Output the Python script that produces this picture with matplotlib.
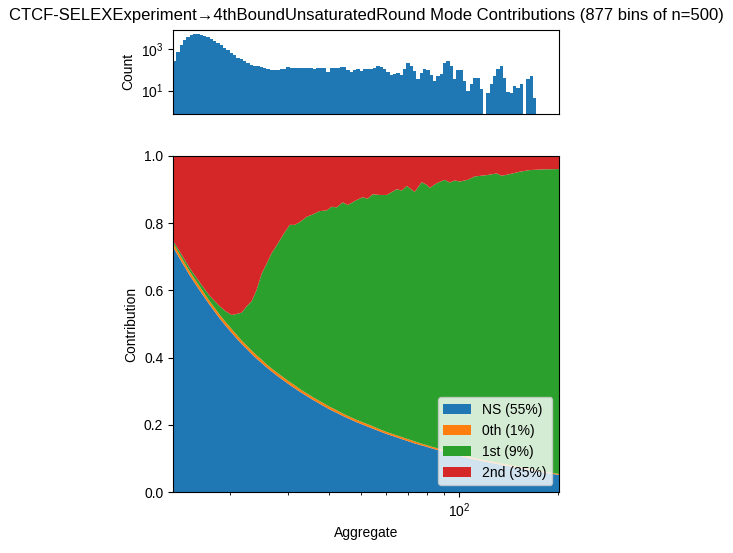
import numpy as np
import matplotlib
matplotlib.use('Agg')
from matplotlib import pyplot as plt

plt.rcParams['font.family'] = ['Liberation Sans', 'DejaVu Sans']
plt.rcParams['mathtext.fontset'] = 'custom'
plt.rcParams['mathtext.rm'] = 'Liberation Sans'
plt.rcParams['mathtext.it'] = 'Liberation Sans:italic'

# histogram of aggregate values (log-spaced bins between these limits)
hist_lo, hist_hi = 13.35, 172.4
hist_counts = [
    260, 730, 1600, 2800, 3850, 4700, 5300, 5200, 4900, 4300,
    3700, 3100, 2550, 2050, 1550, 1180, 880, 660, 500, 390,
    320, 270, 220, 180, 160, 150, 140, 128, 110, 100,
    98, 102, 110, 113, 135, 128, 128, 125, 122, 120,
    118, 125, 115, 122, 128, 118, 83, 118, 125, 118,
    145, 140, 100, 80, 95, 110, 88, 110, 112, 115,
    130, 150, 145, 115, 75, 57, 62, 72, 57, 110,
    215, 160, 85, 38, 70, 105, 95, 55, 30, 50,
    65, 210, 255, 150, 36, 100, 95, 30, 10, 20,
    41, 40, 12, 0, 8, 20, 50, 110, 150, 40,
    9, 8, 16, 14, 20, 0, 38, 50, 4.5,
]

# mode contributions per aggregate value
aggregate = [
    13.35, 13.99, 15.01, 16.11, 17.28, 18.54, 19.34, 20.18, 20.90, 21.65,
    22.43, 23.23, 24.06, 24.93, 25.82, 26.74, 27.90, 29.10, 30.36, 31.45,
    32.57, 34.22, 35.69, 37.50, 39.39, 40.80, 42.27, 44.09, 45.67, 48.66,
    50.75, 52.57, 54.46, 57.21, 60.10, 64.49, 66.80, 69.20, 73.20, 76.90,
    79.66, 81.37, 85.48, 90.43, 93.67, 97.03, 100.5, 106.3, 111.7, 121.5,
    130.4, 135.1, 142.9, 153.3, 164.5, 180.3, 202.5,
]
ns = [
    0.730, 0.695, 0.645, 0.600, 0.557, 0.517, 0.495, 0.474, 0.457, 0.441,
    0.426, 0.411, 0.397, 0.384, 0.371, 0.359, 0.345, 0.332, 0.319, 0.309,
    0.299, 0.286, 0.275, 0.263, 0.251, 0.243, 0.236, 0.227, 0.220, 0.208,
    0.201, 0.195, 0.189, 0.181, 0.173, 0.163, 0.158, 0.153, 0.145, 0.139,
    0.135, 0.132, 0.126, 0.120, 0.116, 0.112, 0.108, 0.102, 0.097, 0.090,
    0.084, 0.081, 0.077, 0.071, 0.066, 0.059, 0.051,
]
zeroth = [
    0.012, 0.012, 0.012, 0.012, 0.011, 0.011, 0.011, 0.011, 0.011, 0.010,
    0.010, 0.010, 0.010, 0.010, 0.009, 0.009, 0.009, 0.009, 0.009, 0.009,
    0.008, 0.008, 0.008, 0.008, 0.008, 0.008, 0.008, 0.007, 0.007, 0.007,
    0.007, 0.007, 0.007, 0.006, 0.006, 0.006, 0.006, 0.006, 0.006, 0.005,
    0.005, 0.005, 0.005, 0.005, 0.005, 0.005, 0.005, 0.005, 0.004, 0.004,
    0.004, 0.004, 0.004, 0.004, 0.003, 0.003, 0.003,
]
first = [
    0.006, 0.009, 0.010, 0.012, 0.016, 0.025, 0.032, 0.042, 0.062, 0.083,
    0.117, 0.147, 0.195, 0.256, 0.300, 0.343, 0.385, 0.427, 0.467, 0.477,
    0.496, 0.525, 0.543, 0.565, 0.579, 0.598, 0.603, 0.628, 0.627, 0.654,
    0.669, 0.671, 0.690, 0.697, 0.705, 0.732, 0.733, 0.752, 0.742, 0.778,
    0.774, 0.768, 0.788, 0.804, 0.800, 0.810, 0.811, 0.822, 0.838, 0.849,
    0.860, 0.856, 0.865, 0.878, 0.889, 0.898, 0.907,
]
second = [
    0.252, 0.284, 0.333, 0.376, 0.416, 0.447, 0.462, 0.473, 0.470, 0.466,
    0.447, 0.432, 0.398, 0.350, 0.320, 0.289, 0.261, 0.232, 0.205, 0.205,
    0.197, 0.181, 0.174, 0.164, 0.162, 0.151, 0.153, 0.138, 0.146, 0.131,
    0.123, 0.127, 0.114, 0.116, 0.116, 0.099, 0.103, 0.089, 0.107, 0.078,
    0.086, 0.095, 0.081, 0.071, 0.079, 0.073, 0.076, 0.071, 0.061, 0.057,
    0.052, 0.059, 0.054, 0.047, 0.042, 0.040, 0.039,
]
labels = ['NS (55%)', '0th (1%)', '1st (9%)', '2nd (35%)']

fig = plt.figure(figsize=(7.33, 5.53), dpi=100)
ax_hist = fig.add_axes([0.236, 0.794, 0.527, 0.152])
ax = fig.add_axes([0.236, 0.110, 0.527, 0.608])

edges = np.logspace(np.log10(hist_lo), np.log10(hist_hi), len(hist_counts) + 1)
centers = np.sqrt(edges[:-1] * edges[1:])
ax_hist.hist(centers, bins=edges, weights=hist_counts, log=True, color='C0',
             histtype='stepfilled', linewidth=0)
ax_hist.set_xscale('log')
ax_hist.set_xlim(aggregate[0], aggregate[-1])
ax_hist.set_ylim(0.75, 8500)
ax_hist.set_yticks([10, 1000])
ax_hist.yaxis.set_minor_locator(matplotlib.ticker.NullLocator())
ax_hist.set_xticks([])
ax_hist.xaxis.set_minor_locator(matplotlib.ticker.NullLocator())
ax_hist.set_ylabel('Count')

ax.stackplot(aggregate, ns, zeroth, first, second, labels=labels,
             colors=['C0', 'C1', 'C2', 'C3'])
ax.set_xscale('log')
ax.set_xlim(aggregate[0], aggregate[-1])
ax.set_ylim(0, 1)
ax.set_xlabel('Aggregate')
ax.set_ylabel('Contribution')
ax.legend(loc='lower right')

fig.suptitle('CTCF-SELEXExperiment\u21924thBoundUnsaturatedRound Mode Contributions (877 bins of n=500)',
             fontsize=12, y=0.985)

fig.savefig('out.png', dpi=100)
